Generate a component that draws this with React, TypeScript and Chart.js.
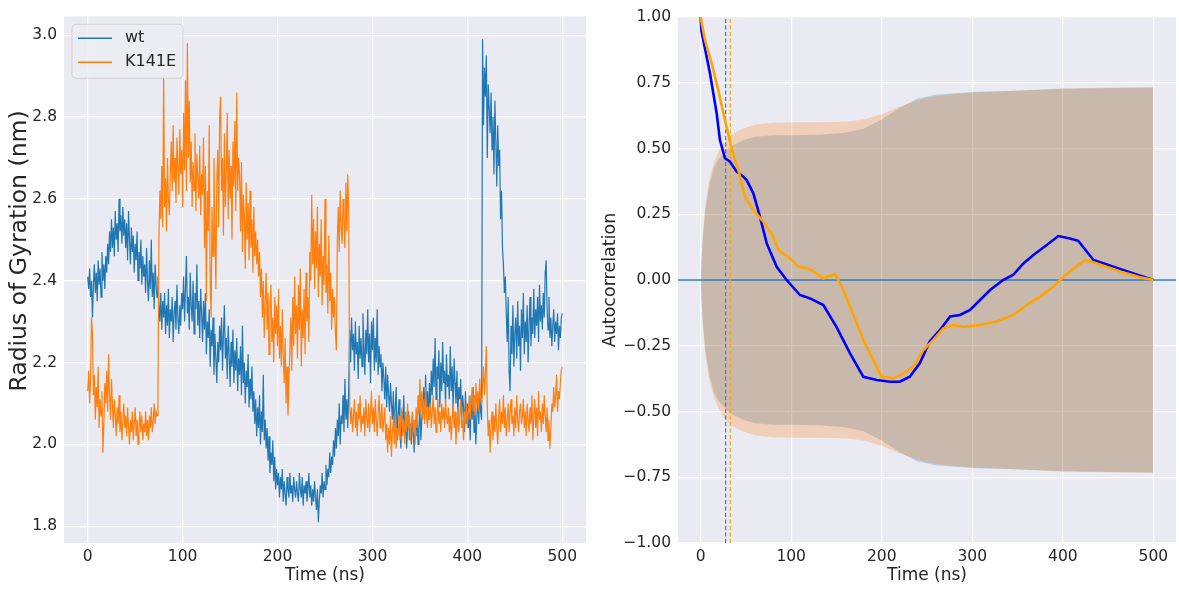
import React, { useEffect, useRef } from 'react';
import { Chart, registerables } from 'chart.js';

Chart.register(...registerables);

const FONT = "'DejaVu Sans', 'Liberation Sans', sans-serif";
const TEXT = '#262626';

// ---------- Left panel: radius of gyration (1 ns sampling, 0..500 ns) ----------
const timeNs: number[] = Array.from({ length: 501 }, (_, i) => i);

const rgWt: number[] = [
  2.41, 2.38, 2.43, 2.36, 2.40, 2.31, 2.39, 2.44, 2.37, 2.42, 2.35, 2.45, 2.39, 2.43, 2.36, 2.47, 2.40, 2.44, 2.38, 2.46,
  2.42, 2.49, 2.44, 2.52, 2.47, 2.55, 2.48, 2.53, 2.46, 2.57, 2.50, 2.54, 2.47, 2.60, 2.52, 2.56, 2.49, 2.58, 2.51, 2.55,
  2.48, 2.54, 2.45, 2.57, 2.50, 2.44, 2.53, 2.47, 2.51, 2.42, 2.49, 2.45, 2.52, 2.40, 2.47, 2.43, 2.50, 2.39, 2.46, 2.41,
  2.44, 2.37, 2.48, 2.40, 2.35, 2.45, 2.38, 2.50, 2.36, 2.42, 2.33, 2.44, 2.39, 2.36, 2.41, 2.34, 2.30, 2.37, 2.28, 2.35,
  2.31, 2.37, 2.27, 2.34, 2.29, 2.38, 2.26, 2.33, 2.30, 2.36, 2.25, 2.32, 2.35, 2.28, 2.39, 2.31, 2.27, 2.34, 2.29, 2.37,
  2.33, 2.41, 2.30, 2.38, 2.46, 2.32, 2.36, 2.28, 2.42, 2.34, 2.30, 2.40, 2.27, 2.37, 2.33, 2.44, 2.29, 2.35, 2.26, 2.38,
  2.32, 2.25, 2.35, 2.28, 2.37, 2.22, 2.30, 2.26, 2.33, 2.19, 2.28, 2.24, 2.31, 2.17, 2.27, 2.21, 2.15, 2.25, 2.20, 2.29,
  2.23, 2.31, 2.18, 2.27, 2.34, 2.21, 2.26, 2.16, 2.29, 2.22, 2.14, 2.25, 2.19, 2.28, 2.15, 2.23, 2.18, 2.26, 2.13, 2.21,
  2.17, 2.24, 2.12, 2.29, 2.15, 2.20, 2.10, 2.18, 2.14, 2.22, 2.09, 2.16, 2.11, 2.19, 2.08, 2.13, 2.05, 2.11, 2.02, 2.09,
  2.04, 2.12, 2.00, 2.08, 2.03, 2.17, 2.01, 2.06, 1.99, 2.04, 1.96, 2.02, 1.93, 1.98, 1.95, 2.01, 1.91, 1.97, 1.89, 1.94,
  1.90, 1.93, 1.87, 1.92, 1.89, 1.94, 1.86, 1.91, 1.88, 1.85, 1.92, 1.89, 1.87, 1.93, 1.88, 1.90, 1.86, 1.92, 1.89, 1.87,
  1.91, 1.88, 1.86, 1.93, 1.89, 1.87, 1.92, 1.85, 1.90, 1.88, 1.91, 1.86, 1.89, 1.93, 1.87, 1.90, 1.85, 1.89, 1.86, 1.91,
  1.87, 1.84, 1.89, 1.81, 1.86, 1.90, 1.88, 1.93, 1.87, 1.91, 1.89, 1.95, 1.90, 1.94, 1.92, 1.98, 1.93, 1.97, 1.95, 2.01,
  1.97, 2.04, 1.99, 2.06, 2.02, 2.10, 2.00, 2.07, 2.05, 2.12, 2.03, 2.16, 2.06, 2.11, 2.04, 2.14, 2.28, 2.20, 2.31, 2.23,
  2.27, 2.18, 2.30, 2.22, 2.25, 2.16, 2.29, 2.21, 2.26, 2.19, 2.32, 2.24, 2.17, 2.28, 2.22, 2.33, 2.20, 2.27, 2.15, 2.30,
  2.23, 2.31, 2.18, 2.26, 2.20, 2.33, 2.17, 2.24, 2.19, 2.22, 2.13, 2.20, 2.16, 2.11, 2.19, 2.09, 2.17, 2.12, 2.08, 2.15,
  2.10, 2.06, 2.13, 2.03, 2.09, 2.14, 2.01, 2.07, 2.11, 2.04, 1.99, 2.08, 2.05, 2.12, 2.02, 2.06, 1.99, 2.04, 2.08, 2.01,
  2.05, 2.00, 2.07, 2.03, 1.98, 2.06, 2.02, 2.08, 2.00, 2.04, 2.09, 2.01, 2.06, 2.10, 2.14, 2.07, 2.17, 2.09, 2.13, 2.06,
  2.15, 2.09, 2.18, 2.12, 2.21, 2.14, 2.26, 2.11, 2.19, 2.16, 2.23, 2.09, 2.20, 2.13, 2.25, 2.15, 2.18, 2.10, 2.22, 2.14,
  2.17, 2.11, 2.24, 2.13, 2.19, 2.08, 2.21, 2.15, 2.10, 2.18, 2.07, 2.14, 2.11, 2.16, 2.06, 2.12, 2.09, 2.03, 2.13, 2.05,
  2.10, 2.04, 2.08, 2.01, 2.12, 2.06, 2.14, 2.03, 2.09, 2.00, 2.07, 2.11, 2.05, 2.13, 2.08, 2.06, 2.99, 2.78, 2.92, 2.85,
  2.95, 2.70, 2.88, 2.82, 2.76, 2.86, 2.72, 2.80, 2.66, 2.84, 2.74, 2.63, 2.78, 2.68, 2.72, 2.55, 2.62, 2.48, 2.44, 2.37,
  2.41, 2.32, 2.25, 2.36, 2.18, 2.13, 2.29, 2.22, 2.34, 2.19, 2.27, 2.31, 2.21, 2.35, 2.24, 2.29, 2.18, 2.33, 2.26, 2.37,
  2.22, 2.30, 2.25, 2.34, 2.20, 2.29, 2.36, 2.24, 2.31, 2.27, 2.38, 2.26, 2.33, 2.29, 2.36, 2.25, 2.39, 2.30, 2.34, 2.28,
  2.37, 2.31, 2.42, 2.45, 2.33, 2.28, 2.36, 2.26, 2.31, 2.24, 2.29, 2.33, 2.25, 2.30, 2.27, 2.32, 2.23, 2.29, 2.26, 2.31,
  2.32,
];

const rgK141E: number[] = [
  2.13, 2.18, 2.10, 2.16, 2.31, 2.27, 2.12, 2.17, 2.06, 2.14, 2.09, 2.19, 2.04, 2.11, 2.07, 2.13, 1.98, 2.05, 2.15, 2.10,
  2.18, 2.08, 2.22, 2.12, 2.06, 2.16, 2.10, 2.04, 2.11, 2.07, 2.02, 2.09, 2.05, 2.12, 2.03, 2.08, 2.01, 2.06, 2.10, 2.04,
  2.07, 2.02, 2.09, 2.04, 2.00, 2.06, 2.03, 2.08, 2.01, 2.05, 2.09, 2.02, 2.06, 2.00, 2.04, 2.08, 2.03, 2.07, 2.01, 2.05,
  2.03, 2.08, 2.02, 2.06, 2.01, 2.07, 2.04, 2.09, 2.03, 2.06, 2.10, 2.05, 2.08, 2.07, 2.12, 2.50, 2.62, 2.55, 2.68, 2.53,
  2.90, 2.58, 2.65, 2.52, 2.70, 2.60, 2.56, 2.66, 2.74, 2.62, 2.78, 2.64, 2.70, 2.59, 2.75, 2.68, 2.61, 2.77, 2.66, 2.72,
  2.58, 2.81, 2.67, 2.89, 2.62, 2.98, 2.70, 2.84, 2.64, 2.74, 2.58, 2.69, 2.62, 2.76, 2.57, 2.71, 2.65, 2.60, 2.73, 2.56,
  2.66, 2.61, 2.75, 2.48, 2.68, 2.35, 2.62, 2.52, 2.78, 2.40, 2.31, 2.58, 2.46, 2.70, 2.55, 2.38, 2.64, 2.72, 2.53, 2.80,
  2.85, 2.62, 2.70, 2.51, 2.76, 2.58, 2.66, 2.81, 2.55, 2.72, 2.60, 2.68, 2.50, 2.74, 2.63, 2.79, 2.57, 2.86, 2.62, 2.70,
  2.66, 2.52, 2.69, 2.47, 2.61, 2.56, 2.43, 2.64, 2.50, 2.59, 2.45, 2.62, 2.48, 2.55, 2.42, 2.58, 2.46, 2.52, 2.44, 2.50,
  2.41, 2.47, 2.36, 2.43, 2.31, 2.40, 2.26, 2.35, 2.42, 2.28, 2.37, 2.22, 2.33, 2.39, 2.25, 2.31, 2.20, 2.36, 2.27, 2.34,
  2.24, 2.38, 2.21, 2.29, 2.19, 2.33, 2.22, 2.15, 2.26, 2.10, 2.19, 2.07, 2.16, 2.23, 2.31, 2.18, 2.36, 2.24, 2.41, 2.27,
  2.34, 2.21, 2.39, 2.28, 2.43, 2.19, 2.33, 2.26, 2.38, 2.22, 2.42, 2.30, 2.36, 2.25, 2.47, 2.40, 2.61, 2.44, 2.55, 2.38,
  2.52, 2.43, 2.58, 2.36, 2.49, 2.41, 2.55, 2.34, 2.46, 2.39, 2.60, 2.37, 2.44, 2.32, 2.51, 2.35, 2.42, 2.28, 2.38, 2.31,
  2.36, 2.27, 2.23, 2.50, 2.58, 2.47, 2.62, 2.53, 2.49, 2.60, 2.55, 2.48, 2.64, 2.52, 2.66, 2.57, 2.10, 2.05, 2.09, 2.03,
  2.07, 2.11, 2.04, 2.08, 2.02, 2.10, 2.06, 2.12, 2.03, 2.07, 2.05, 2.09, 2.02, 2.11, 2.06, 2.04, 2.10, 2.03, 2.08, 2.13,
  2.05, 2.09, 2.03, 2.11, 2.06, 2.02, 2.08, 2.12, 2.04, 2.07, 2.10, 2.03, 2.06, 2.09, 2.01, 2.05, 1.98, 2.04, 2.00, 2.07,
  1.97, 2.03, 2.06, 2.00, 2.08, 1.99, 2.04, 2.02, 2.07, 2.01, 2.05, 2.09, 2.02, 2.06, 2.00, 2.08, 2.03, 2.10, 2.04, 2.07,
  2.01, 2.05, 2.08, 2.03, 2.06, 2.00, 2.09, 2.04, 2.12, 2.07, 2.16, 2.08, 2.13, 2.06, 2.11, 2.05, 2.14, 2.07, 2.04, 2.09,
  2.06, 2.10, 2.04, 2.08, 2.12, 2.05, 2.09, 2.03, 2.07, 2.11, 2.05, 2.08, 2.03, 2.10, 2.06, 2.09, 2.04, 2.11, 2.07, 2.05,
  2.09, 2.03, 2.07, 2.01, 2.06, 2.10, 2.04, 2.08, 2.00, 2.05, 2.09, 2.03, 2.07, 2.11, 2.04, 2.06, 2.01, 2.08, 2.05, 2.10,
  2.04, 2.08, 2.12, 2.06, 2.10, 2.14, 2.08, 2.12, 2.07, 2.15, 2.09, 2.13, 2.08, 2.16, 2.11, 2.10, 2.14, 2.19, 2.12, 2.17,
  2.24, 2.09, 2.02, 2.06, 1.98, 2.05, 2.08, 2.01, 2.07, 2.03, 2.10, 2.04, 2.00, 2.07, 2.11, 2.03, 2.08, 2.05, 2.12, 2.04,
  2.09, 2.02, 2.06, 2.10, 2.03, 2.08, 2.11, 2.05, 2.07, 2.02, 2.09, 2.04, 2.12, 2.06, 2.03, 2.08, 2.10, 2.05, 2.07, 2.11,
  2.04, 2.08, 2.02, 2.10, 2.06, 2.03, 2.09, 2.05, 2.12, 2.01, 2.07, 2.11, 2.04, 2.09, 2.02, 2.13, 2.06, 2.08, 2.03, 2.10,
  2.05, 2.12, 2.07, 2.03, 2.09, 2.01, 2.06, 1.99, 2.04, 2.10, 2.08, 2.14, 2.09, 2.12, 2.17, 2.08, 2.13, 2.11, 2.15, 2.18,
  2.19,
];

const rgXTicks: number[] = [0, 100, 200, 300, 400, 500];
const rgYTicks: number[] = [1.8, 2.0, 2.2, 2.4, 2.6, 2.8, 3.0];
const rgYTitle = 'Radius of Gyration (nm)';
const legendOrder: string[] = ['wt', 'K141E'];

// ---------- Right panel: autocorrelation ----------
const wtAcfLag: number[] = [
  0, 1, 10.3, 17.7, 21.3, 26.9, 32.4, 39.8, 47.1, 50.8, 58.2, 65.5, 72.9, 84, 95,
  109.7, 120.8, 135.5, 150, 165, 179.7, 194.5, 209, 220, 231, 242, 253, 264.4,
  275.5, 286.5, 297.6, 308.6, 319.7, 334, 345, 356.5, 367.5, 382.3, 395, 408, 417,
  433.8, 456, 478, 500,
];
const wtAcf: number[] = [
  1.0, 0.945, 0.786, 0.634, 0.532, 0.463, 0.45, 0.412, 0.393, 0.38, 0.33, 0.241, 0.14, 0.05, 0.0,
  -0.057, -0.07, -0.095, -0.178, -0.279, -0.368, -0.38, -0.387, -0.387, -0.368, -0.317, -0.234, -0.19,
  -0.139, -0.133, -0.114, -0.076, -0.038, 0.0, 0.019, 0.063, 0.095, 0.133, 0.167, 0.158, 0.149,
  0.076, 0.05, 0.025, 0.0,
];

const mutAcfLag: number[] = [
  0, 4.8, 12.2, 19.5, 26.9, 34.2, 41.6, 49, 58.2, 69.2, 80.2, 85.8, 98.7, 107.8, 120.8,
  135.5, 148.4, 152, 157.6, 165, 179.7, 190.7, 200, 212.8, 224, 235, 246, 257, 268, 279,
  290, 308.6, 327, 345.4, 360, 375, 389.6, 397, 411.7, 424.6, 437.6, 463.3, 485.4, 500,
];
const mutAcf: number[] = [
  1.0, 0.913, 0.824, 0.722, 0.608, 0.5, 0.418, 0.317, 0.266, 0.222, 0.165, 0.114, 0.082, 0.051, 0.041,
  0.006, 0.023, 0.0, -0.038, -0.101, -0.228, -0.304, -0.368, -0.374, -0.355, -0.33, -0.266, -0.228, -0.184, -0.171,
  -0.178, -0.171, -0.158, -0.133, -0.095, -0.063, -0.025, 0.0, 0.044, 0.076, 0.063, 0.032, 0.01, 0.0,
];

const bandLag: number[] = [
  0, 2, 5, 10, 15, 20, 25, 30, 40, 50, 60, 80, 100, 130, 160, 180, 200, 220, 240, 260,
  280, 300, 350, 400, 450, 500,
];
const wtBand: number[] = [
  0, 0.14, 0.26, 0.37, 0.43, 0.46, 0.48, 0.5, 0.52, 0.535, 0.545, 0.55, 0.55, 0.552, 0.56, 0.575,
  0.61, 0.655, 0.69, 0.704, 0.71, 0.715, 0.72, 0.727, 0.73, 0.732,
];
const mutBand: number[] = [
  0, 0.15, 0.28, 0.39, 0.45, 0.49, 0.52, 0.54, 0.565, 0.58, 0.59, 0.598, 0.6, 0.6, 0.602, 0.61,
  0.63, 0.66, 0.683, 0.7, 0.707, 0.713, 0.721, 0.728, 0.731, 0.733,
];
const wtDecorrNs = 27.6;
const mutDecorrNs = 32.7;
const acfXTicks: number[] = [0, 100, 200, 300, 400, 500];
const acfYTicks: number[] = [-1, -0.75, -0.5, -0.25, 0, 0.25, 0.5, 0.75, 1];

// ---------- plugins ----------
const plotBg = {
  id: 'plotBg',
  beforeDraw(chart: any) {
    const { ctx, chartArea } = chart;
    ctx.save();
    ctx.fillStyle = '#EAEAF2';
    ctx.fillRect(chartArea.left, chartArea.top, chartArea.right - chartArea.left, chartArea.bottom - chartArea.top);
    ctx.restore();
  },
};

// vertical axis title placed like the reference (slightly above the plot centre)
const sideTitle = {
  id: 'sideTitle',
  afterDraw(chart: any, _args: any, opts: any) {
    if (!opts || !opts.text) return;
    const { ctx } = chart;
    ctx.save();
    ctx.translate(opts.x, opts.y);
    ctx.rotate(-Math.PI / 2);
    ctx.fillStyle = TEXT;
    ctx.font = `${opts.size}px ${FONT}`;
    ctx.textAlign = 'center';
    ctx.textBaseline = 'middle';
    ctx.fillText(opts.text, 0, 0);
    ctx.restore();
  },
};

const boxLegend = {
  id: 'boxLegend',
  afterDraw(chart: any, _args: any, opts: any) {
    if (!opts || !opts.order) return;
    const { ctx, chartArea } = chart;
    const x = chartArea.left + 8;
    const y = chartArea.top + 8;
    const w = 111;
    const h = 54;
    const r = 4;
    ctx.save();
    ctx.beginPath();
    ctx.moveTo(x + r, y);
    ctx.lineTo(x + w - r, y);
    ctx.quadraticCurveTo(x + w, y, x + w, y + r);
    ctx.lineTo(x + w, y + h - r);
    ctx.quadraticCurveTo(x + w, y + h, x + w - r, y + h);
    ctx.lineTo(x + r, y + h);
    ctx.quadraticCurveTo(x, y + h, x, y + h - r);
    ctx.lineTo(x, y + r);
    ctx.quadraticCurveTo(x, y, x + r, y);
    ctx.closePath();
    ctx.fillStyle = 'rgba(236,236,243,0.85)';
    ctx.fill();
    ctx.strokeStyle = 'rgba(204,204,204,0.8)';
    ctx.lineWidth = 1;
    ctx.stroke();
    opts.order.forEach((label: string, i: number) => {
      const ds = chart.data.datasets.find((d: any) => d.label === label);
      if (!ds) return;
      const cy = y + 14 + i * 24;
      ctx.beginPath();
      ctx.strokeStyle = ds.borderColor;
      ctx.lineWidth = 1.6;
      ctx.moveTo(x + 6, cy);
      ctx.lineTo(x + 40, cy);
      ctx.stroke();
      ctx.fillStyle = TEXT;
      ctx.font = `16px ${FONT}`;
      ctx.textAlign = 'left';
      ctx.textBaseline = 'middle';
      ctx.fillText(label, x + 53, cy);
    });
    ctx.restore();
  },
};

const fmtMinus = (v: number, d: number) => {
  const s = Number(v).toFixed(d);
  return s.startsWith('-') ? '\u2212' + s.slice(1) : s;
};

function axisX(ticks: number[], title: string) {
  return {
    type: 'linear' as const,
    min: -25,
    max: 525,
    afterBuildTicks: (s: any) => {
      s.ticks = ticks.map((v) => ({ value: v }));
    },
    afterFit: (s: any) => {
      s.height = 47;
    },
    ticks: {
      font: { family: FONT, size: 15.5 },
      color: TEXT,
      padding: 5,
      maxRotation: 0,
      autoSkip: false,
      callback: (v: any) => String(v),
    },
    grid: { color: '#FFFFFF', lineWidth: 1.2, drawTicks: false },
    border: { display: false },
    title: {
      display: true,
      text: title,
      font: { family: FONT, size: 17 },
      color: TEXT,
      padding: { top: 0, bottom: 4 },
    },
  };
}

function leftConfig(): any {
  return {
    type: 'line',
    data: {
      datasets: [
        {
          label: 'K141E',
          data: rgK141E.map((y, i) => ({ x: timeNs[i], y })),
          borderColor: '#ff7f0e',
          borderWidth: 1.2,
          pointRadius: 0,
          tension: 0,
        },
        {
          label: 'wt',
          data: rgWt.map((y, i) => ({ x: timeNs[i], y })),
          borderColor: '#1f77b4',
          borderWidth: 1.2,
          pointRadius: 0,
          tension: 0,
        },
      ],
    },
    options: {
      responsive: false,
      animation: false,
      devicePixelRatio: 1,
      events: [],
      layout: { padding: { left: 0, right: 4, top: 10, bottom: 0 } },
      plugins: {
        legend: { display: false },
        tooltip: { enabled: false },
        boxLegend: { order: legendOrder },
        sideTitle: { text: rgYTitle, x: 20, y: 251, size: 23.5 },
      },
      scales: {
        x: axisX(rgXTicks, 'Time (ns)'),
        y: {
          type: 'linear',
          min: 1.759,
          max: 3.046,
          afterBuildTicks: (s: any) => {
            s.ticks = rgYTicks.map((v) => ({ value: v }));
          },
          afterFit: (s: any) => {
            s.width = 64;
          },
          ticks: {
            font: { family: FONT, size: 15.5 },
            color: TEXT,
            padding: 7,
            callback: (v: any) => Number(v).toFixed(1),
          },
          grid: { color: '#FFFFFF', lineWidth: 1.2, drawTicks: false },
          border: { display: false },
          title: { display: false },
        },
      },
    },
    plugins: [plotBg, boxLegend, sideTitle],
  };
}

function rightConfig(): any {
  const line = (label: string, xs: number[], ys: number[], color: string, width: number) => ({
    label,
    data: xs.map((x, i) => ({ x, y: ys[i] })),
    borderColor: color,
    borderWidth: width,
    pointRadius: 0,
    tension: 0,
    fill: false,
  });
  const vline = (label: string, x: number, color: string) => ({
    label,
    data: [
      { x, y: -1 },
      { x, y: 1 },
    ],
    borderColor: color,
    borderWidth: 1.2,
    borderDash: [4, 2.5],
    pointRadius: 0,
    fill: false,
  });
  const band = (label: string, sign: number, vals: number[], fillColor: string | null) => ({
    label,
    data: bandLag.map((x, i) => ({ x, y: sign * vals[i] })),
    borderWidth: 0,
    borderColor: 'rgba(0,0,0,0)',
    pointRadius: 0,
    tension: 0,
    fill: fillColor ? { target: '+1' } : false,
    backgroundColor: fillColor || 'rgba(0,0,0,0)',
  });
  return {
    type: 'line',
    data: {
      datasets: [
        line('K141E ACF', mutAcfLag, mutAcf, '#FFA500', 2.6),
        line('wt ACF', wtAcfLag, wtAcf, '#0000FF', 2.6),
        vline('K141E decorrelation', mutDecorrNs, '#FFA500'),
        vline('wt decorrelation', wtDecorrNs, '#3b7fb8'),
        line('zero', [-25, 525], [0, 0], '#2f7dbb', 1.5),
        band('K141E CI upper', 1, mutBand, 'rgba(255,127,14,0.25)'),
        band('K141E CI lower', -1, mutBand, null),
        band('wt CI upper', 1, wtBand, 'rgba(31,119,180,0.25)'),
        band('wt CI lower', -1, wtBand, null),
      ],
    },
    options: {
      responsive: false,
      animation: false,
      devicePixelRatio: 1,
      events: [],
      layout: { padding: { left: 0, right: 3, top: 17, bottom: 0 } },
      plugins: {
        legend: { display: false },
        tooltip: { enabled: false },
        filler: { propagate: false },
      },
      scales: {
        x: axisX(acfXTicks, 'Time (ns)'),
        y: {
          type: 'linear',
          min: -1,
          max: 1,
          afterBuildTicks: (s: any) => {
            s.ticks = acfYTicks.map((v) => ({ value: v }));
          },
          afterFit: (s: any) => {
            s.width = 88;
          },
          ticks: {
            font: { family: FONT, size: 15.5 },
            color: TEXT,
            padding: 7,
            callback: (v: any) => fmtMinus(v, 2),
          },
          grid: { color: '#FFFFFF', lineWidth: 1.2, drawTicks: false },
          border: { display: false },
          title: {
            display: true,
            text: 'Autocorrelation',
            font: { family: FONT, size: 17.5 },
            color: TEXT,
            padding: { top: 9.5, bottom: 0 },
          },
        },
      },
    },
    plugins: [plotBg],
  };
}

export default function App() {
  const leftRef = useRef<HTMLCanvasElement>(null);
  const rightRef = useRef<HTMLCanvasElement>(null);
  useEffect(() => {
    const c1 = new Chart(leftRef.current as HTMLCanvasElement, leftConfig());
    const c2 = new Chart(rightRef.current as HTMLCanvasElement, rightConfig());
    return () => {
      c1.destroy();
      c2.destroy();
    };
  }, []);
  return (
    <div style={{ position: 'fixed', left: 0, top: 0, width: 1179, height: 590, background: '#ffffff' }}>
      <canvas ref={leftRef} width={590} height={590} style={{ position: 'absolute', left: 0, top: 0 }} />
      <canvas ref={rightRef} width={589} height={590} style={{ position: 'absolute', left: 590, top: 0 }} />
    </div>
  );
}
